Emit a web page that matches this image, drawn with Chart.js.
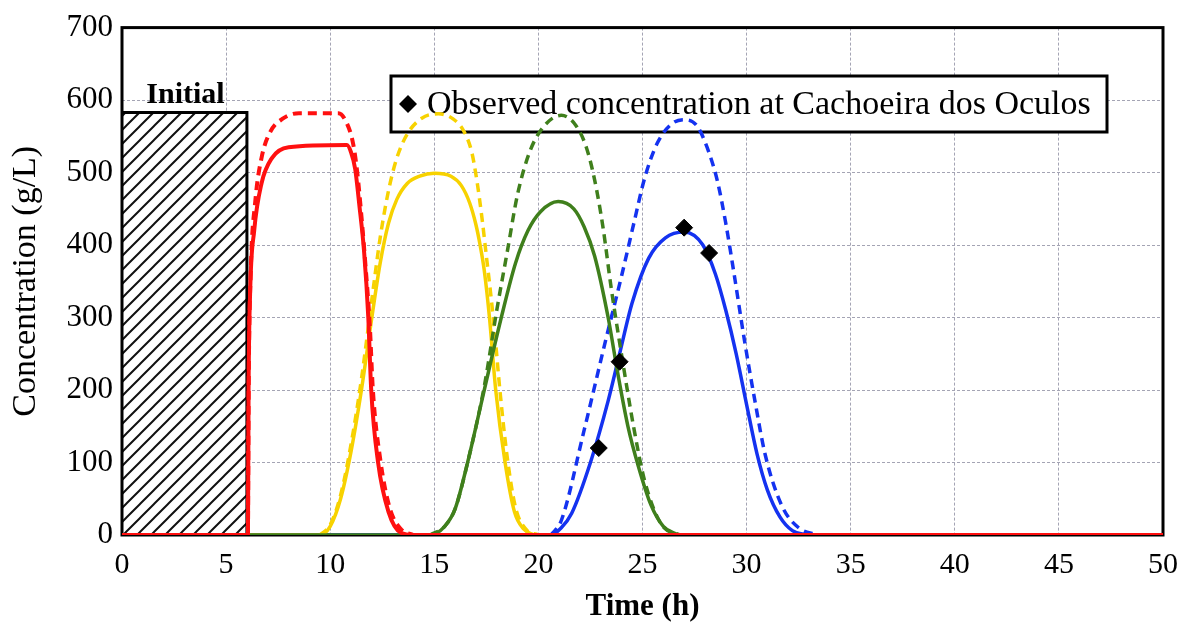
<!DOCTYPE html>
<html>
<head>
<meta charset="utf-8">
<script src="https://cdn.jsdelivr.net/npm/chart.js@4.4.1/dist/chart.umd.min.js"></script>
<style>
  html, body { margin: 0; padding: 0; background: #fff; }
  #wrap { width: 1177px; height: 628px; }
</style>
</head>
<body>
<div id="wrap"><canvas id="chart" width="1177" height="628"></canvas></div>
<script>
// ===== DATA =====
const xTicks = [0, 5, 10, 15, 20, 25, 30, 35, 40, 45, 50];
const yTicks = [0, 100, 200, 300, 400, 500, 600, 700];

const initialT = [0, 0, 6, 6];
const initialC = [0, 583, 583, 0];

const redSolidT = [0, 6.05, 6.08, 6.15, 6.35, 6.7, 7.2, 8.0, 10.8, 11.0, 11.2, 11.4, 11.63, 11.83, 11.97, 12.3, 12.8, 13.4, 14, 50];
const redSolidC = [0, 0, 200, 330, 420, 485, 520, 535, 538, 528, 505, 455, 390, 300, 200, 100, 32, 3, 0, 0];

const redDashT = [6.05, 6.09, 6.18, 6.4, 6.7, 7.1, 7.7, 8.5, 10.4, 10.8, 11.1, 11.3, 11.5, 11.7, 11.9, 12.05, 12.4, 12.85, 13.4, 14];
const redDashC = [0, 220, 360, 460, 520, 555, 574, 582, 582, 568, 540, 500, 440, 370, 290, 200, 105, 38, 8, 0];

const yellowSolidT = [6, 9.5, 10.0, 10.5, 11.0, 11.5, 12.0, 12.4, 12.8, 13.2, 13.7, 14.3, 15.0, 15.8, 16.3, 16.7, 17.0, 17.2, 17.4, 17.65, 17.95, 18.4, 18.85, 19.3, 19.8];
const yellowSolidC = [0, 0, 12, 50, 115, 200, 300, 375, 430, 463, 485, 495, 499, 495, 482, 458, 428, 400, 365, 300, 200, 100, 32, 8, 0];

const yellowDashT = [9.5, 10.0, 10.5, 11.0, 11.5, 12.0, 12.4, 12.8, 13.2, 13.7, 14.4, 15.2, 15.9, 16.4, 16.8, 17.05, 17.3, 17.5, 17.7, 17.9, 18.15, 18.5, 18.9, 19.4, 20.0];
const yellowDashC = [0, 14, 55, 125, 215, 325, 410, 475, 520, 553, 575, 581, 574, 558, 528, 488, 435, 385, 335, 280, 200, 108, 38, 8, 0];

const greenSolidT = [6, 14.8, 15.5, 16.0, 16.6, 17.4, 18.2, 18.9, 19.5, 20.1, 20.95, 21.7, 22.2, 22.7, 23.35, 23.8, 24.3, 24.8, 25.4, 26.0, 26.7];
const greenSolidC = [0, 0, 12, 36, 100, 200, 298, 375, 420, 446, 460, 450, 425, 385, 300, 225, 150, 95, 42, 12, 0];

const greenDashT = [14.8, 15.5, 16.0, 16.6, 17.4, 18.0, 18.5, 19.0, 19.6, 20.3, 21.1, 21.8, 22.3, 22.7, 23.1, 23.5, 24.1, 24.6, 25.1, 25.9, 26.8];
const greenDashC = [0, 12, 36, 100, 205, 310, 390, 470, 530, 565, 579, 565, 535, 490, 425, 340, 230, 145, 75, 15, 0];

const blueSolidT = [6, 20.6, 21.1, 21.6, 22.5, 23.35, 23.9, 24.5, 25.3, 26.1, 27.0, 27.9, 28.5, 29.0, 29.5, 30.0, 30.5, 31.0, 31.6, 32.2, 32.9];
const blueSolidC = [0, 0, 10, 30, 100, 185, 250, 320, 382, 410, 418, 400, 360, 310, 250, 180, 112, 62, 25, 6, 0];

const blueDashT = [20.6, 21.1, 22.2, 23.2, 24.0, 24.6, 25.1, 25.7, 26.4, 27.0, 27.6, 28.1, 28.6, 29.0, 29.4, 29.9, 30.4, 30.9, 31.7, 32.5, 33.4];
const blueDashC = [0, 20, 145, 265, 358, 432, 492, 540, 567, 573, 565, 535, 488, 430, 360, 268, 185, 110, 40, 10, 0];

const observedT = [22.9, 23.9, 27.0, 28.2];
const observedC = [120, 239, 424, 389];

const legendText = 'Observed concentration at Cachoeira dos Oculos';

// ===== HELPERS =====
const zip = (ts, cs) => ts.map((t, i) => ({ x: t, y: cs[i] }));
const serif = "'Liberation Serif', 'Times New Roman', serif";

const red = '#ff1010';
const yellow = '#f7d200';
const green = '#3f7f1c';
const blue = '#1432f0';

function hatchPattern() {
  const s = 14;
  const c = document.createElement('canvas');
  c.width = s; c.height = s;
  const g = c.getContext('2d');
  g.fillStyle = '#fff';
  g.fillRect(0, 0, s, s);
  g.strokeStyle = '#111';
  g.lineWidth = 2;
  g.beginPath();
  g.moveTo(0, s); g.lineTo(s, 0);
  g.moveTo(-s / 2, s / 2); g.lineTo(s / 2, -s / 2);
  g.moveTo(s / 2, s + s / 2); g.lineTo(s + s / 2, s / 2);
  g.stroke();
  return g.createPattern(c, 'repeat');
}

function curve(label, ts, cs, color, dashed, order, width) {
  return {
    label, data: zip(ts, cs),
    borderColor: color, backgroundColor: color,
    borderWidth: width || 3.5,
    borderDash: dashed ? [9, 6] : [],
    pointRadius: 0,
    cubicInterpolationMode: 'monotone',
    fill: false,
    order
  };
}

// ===== EXTRA DRAWING: frame, legend box (under curves), "Initial" label =====
const extras = {
  id: 'extras',
  beforeDatasetsDraw(chart) {
    const { ctx, chartArea: a } = chart;
    ctx.save();
    ctx.strokeStyle = '#000';
    ctx.lineWidth = 3;
    ctx.strokeRect(a.left, a.top, a.right - a.left, a.bottom - a.top);

    // legend box sits behind the simulated curves
    const bx = 391, by = 76, bw = 716, bh = 56;
    ctx.fillStyle = '#fff';
    ctx.fillRect(bx, by, bw, bh);
    ctx.lineWidth = 3;
    ctx.strokeRect(bx, by, bw, bh);
    const dx = bx + 17, dy = by + bh / 2;
    ctx.fillStyle = '#000';
    ctx.beginPath();
    ctx.moveTo(dx, dy - 9); ctx.lineTo(dx + 9, dy); ctx.lineTo(dx, dy + 9); ctx.lineTo(dx - 9, dy);
    ctx.closePath();
    ctx.fill();
    ctx.font = '34px ' + serif;
    ctx.textAlign = 'left';
    ctx.textBaseline = 'middle';
    ctx.fillText(legendText, bx + 36, dy + 1);
    ctx.restore();
  },
  afterDatasetsDraw(chart) {
    const { ctx, scales: { x, y } } = chart;
    ctx.save();
    ctx.font = 'bold 30px ' + serif;
    ctx.fillStyle = '#000';
    ctx.textAlign = 'center';
    ctx.textBaseline = 'bottom';
    ctx.fillText('Initial', x.getPixelForValue(3.05), y.getPixelForValue(583) - 2);
    ctx.restore();
  }
};

// ===== CHART =====
const ctx = document.getElementById('chart');
new Chart(ctx, {
  type: 'line',
  data: {
    datasets: [
      {
        label: 'Observed',
        type: 'scatter',
        data: zip(observedT, observedC),
        pointStyle: 'rectRot',
        pointRadius: 8.5,
        backgroundColor: '#000',
        borderColor: '#000',
        showLine: false,
        order: 0
      },
      curve('Red simulated', redSolidT, redSolidC, red, false, 1, 4),
      curve('Red peak', redDashT, redDashC, red, true, 2, 4),
      curve('Yellow simulated', yellowSolidT, yellowSolidC, yellow, false, 4),
      curve('Yellow peak', yellowDashT, yellowDashC, yellow, true, 4),
      curve('Blue simulated', blueSolidT, blueSolidC, blue, false, 5),
      curve('Blue peak', blueDashT, blueDashC, blue, true, 5),
      curve('Green simulated', greenSolidT, greenSolidC, green, false, 3),
      curve('Green peak', greenDashT, greenDashC, green, true, 3),
      {
        label: 'Initial',
        data: zip(initialT, initialC),
        borderColor: '#000',
        borderWidth: 3,
        backgroundColor: hatchPattern(),
        fill: 'origin',
        pointRadius: 0,
        tension: 0,
        order: 6
      }
    ]
  },
  options: {
    responsive: false,
    animation: false,
    devicePixelRatio: 1,
    layout: { padding: { top: 25, right: 0, left: 0, bottom: 0 } },
    plugins: {
      legend: { display: false },
      tooltip: { enabled: false }
    },
    scales: {
      x: {
        type: 'linear',
        min: 0, max: 50,
        afterFit: s => { s.height = 93; s.paddingRight = 14; s.paddingLeft = 0; },
        afterBuildTicks: s => { s.ticks = xTicks.map(v => ({ value: v })); },
        grid: { color: '#a4a4b4', lineWidth: 1, drawTicks: false },
        border: { display: false, dash: [3, 2] },
        ticks: { color: '#000', padding: 12, font: { family: serif, size: 30 } },
        title: {
          display: true, text: 'Time (h)', color: '#000',
          font: { family: serif, size: 31, weight: 'bold' },
          padding: { top: 0, bottom: 2 }
        }
      },
      y: {
        min: 0, max: 700,
        afterFit: s => { s.width = 122; },
        afterBuildTicks: s => { s.ticks = yTicks.map(v => ({ value: v })); },
        grid: { color: '#a4a4b4', lineWidth: 1, drawTicks: false },
        border: { display: false, dash: [3, 2] },
        ticks: { color: '#000', padding: 9, font: { family: serif, size: 31 } },
        title: {
          display: true, text: 'Concentration (g/L)', color: '#000',
          font: { family: serif, size: 34 },
          padding: { top: 6, bottom: 0 }
        }
      }
    }
  },
  plugins: [extras]
});
</script>
</body>
</html>
